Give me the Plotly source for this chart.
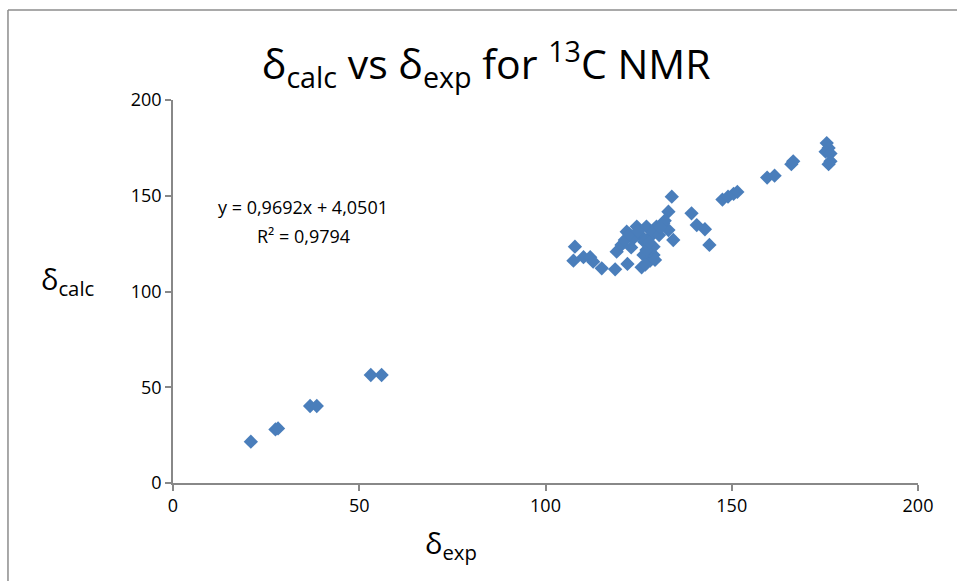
import plotly.graph_objects as go

# experimental shifts (x) and calculated shifts (y)
delta_exp = [
    20.9, 27.5, 28.2, 36.8, 38.6, 53.1, 56.0,
    107.9, 107.5, 110.2, 112.0, 112.8, 115.1, 118.7, 122.0, 125.8, 128.1, 129.0,
    126.3, 119.1, 120.4, 121.3, 121.8, 124.5, 127.1, 129.8, 131.6, 133.0, 128.1,
    125.4, 123.6, 129.0, 127.1, 133.9, 133.0, 134.3, 139.2, 140.6, 142.8, 144.0,
    122.5, 124.8, 126.5, 128.8, 130.5, 132.0, 130.8, 127.8, 129.4, 126.8, 123.0,
    147.5, 149.0, 150.5, 151.5, 159.5, 161.5, 166.0, 166.5,
    175.5, 176.0, 175.2, 176.5, 176.5, 176.0,
]
delta_calc = [
    21.6, 28.0, 28.5, 40.2, 40.2, 56.4, 56.4,
    123.4, 116.1, 117.9, 117.9, 115.6, 112.1, 111.6, 114.4, 112.6, 116.1, 119.1,
    119.1, 120.8, 124.3, 126.9, 131.2, 133.9, 133.9, 133.9, 135.6, 132.1, 128.6,
    129.5, 127.8, 123.4, 121.7, 149.5, 141.7, 126.9, 140.8, 134.7, 132.5, 124.3,
    130.0, 131.5, 126.0, 131.0, 129.5, 137.0, 133.5, 125.5, 116.5, 114.0, 123.0,
    148.0, 149.5, 151.0, 152.0, 159.5, 160.5, 166.5, 168.0,
    177.5, 175.0, 173.0, 172.0, 168.0, 166.5,
]

x_ticks = [0, 50, 100, 150, 200]
y_ticks = [0, 50, 100, 150, 200]

FONT = "Open Sans"
AXIS_GRAY = "#888888"

fig = go.Figure()
fig.add_trace(go.Scatter(
    x=delta_exp, y=delta_calc, mode="markers",
    marker=dict(symbol="diamond", size=11, color="#4A7EBB", line=dict(width=0)),
    showlegend=False,
))

fig.update_layout(
    width=957, height=581,
    margin=dict(l=173, r=39, t=100, b=98),
    paper_bgcolor="white", plot_bgcolor="white",
    font=dict(family=FONT, color="black"),
    title=dict(
        text="δ<sub>calc</sub> vs δ<sub>exp</sub> for <sup>13</sup>C NMR",
        x=0.508, xanchor="center", y=0.888, yanchor="middle",
        font=dict(family=FONT, size=41, color="black"),
    ),
    xaxis=dict(
        range=[0, 200], tickvals=x_ticks, showgrid=False, zeroline=False,
        showline=True, linecolor=AXIS_GRAY, linewidth=1.5,
        ticks="outside", ticklen=6, tickcolor=AXIS_GRAY, tickwidth=1.5,
        tickfont=dict(family=FONT, size=18, color="black"),
    ),
    yaxis=dict(
        range=[0, 200], tickvals=y_ticks, showgrid=False, zeroline=False,
        showline=True, linecolor=AXIS_GRAY, linewidth=1.5,
        ticks="outside", ticklen=6, tickcolor=AXIS_GRAY, tickwidth=1.5,
        tickfont=dict(family=FONT, size=18, color="black"),
    ),
    annotations=[
        dict(text="δ<sub>exp</sub>", xref="paper", yref="paper",
             x=0.373, y=-0.16, xanchor="center", yanchor="middle",
             showarrow=False, font=dict(family=FONT, size=29)),
        dict(text="δ<sub>calc</sub>", xref="paper", yref="paper",
             x=-0.141, y=0.53, xanchor="center", yanchor="middle",
             showarrow=False, font=dict(family=FONT, size=29)),
        dict(text="y = 0,9692x + 4,0501", xref="paper", yref="paper",
             x=0.1745, y=0.721, xanchor="center", yanchor="middle",
             showarrow=False, font=dict(family=FONT, size=18)),
        dict(text="R² = 0,9794", xref="paper", yref="paper",
             x=0.1745, y=0.645, xanchor="center", yanchor="middle",
             showarrow=False, font=dict(family=FONT, size=18)),
    ],
    shapes=[
        dict(type="line", xref="paper", yref="paper", x0=-0.2215, x1=-0.2215,
             y0=1.235, y1=-0.3, line=dict(color="#8c8c8c", width=1.5)),
        dict(type="line", xref="paper", yref="paper", x0=-0.2215, x1=1.06,
             y0=1.235, y1=1.235, line=dict(color="#8c8c8c", width=1.5)),
    ],
)

fig.write_html(
    "out.html",
    config={"displayModeBar": False},
    post_script="document.body.style.margin='0';document.body.style.overflow='hidden';"
                "document.documentElement.style.overflow='hidden';",
)
